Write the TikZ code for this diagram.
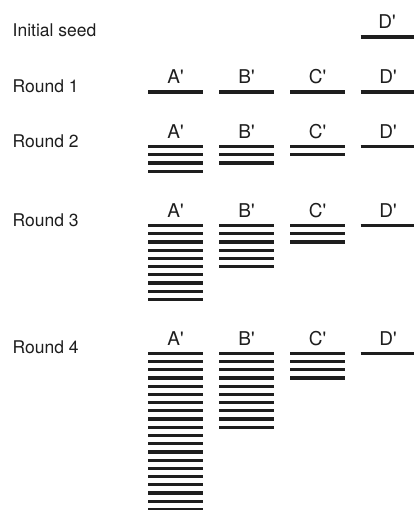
\documentclass[tikz,border=0pt]{standalone}
\usepackage{fontspec}
\setmainfont{TeX Gyre Heros}[Ligatures=TeXOff]
\definecolor{ink}{HTML}{1E1E1E}
\begin{document}
\begin{tikzpicture}[x=1pt,y=-1pt,
  bar/.style={line width=3.2pt, draw=ink},
  rowtext/.style={anchor=base west, inner sep=0pt, text=ink,
    font=\fontsize{17.5}{20}\selectfont},
  collabel/.style={anchor=base, inner sep=0pt, text=ink,
    font=\fontsize{19}{22}\selectfont}]
\useasboundingbox (0,0) rectangle (413,510);

% line spacing inside a stack and bar length
\def\gap{8.22}
\def\len{55}

% initial seed: a single D' strand
\node[rowtext] (seed) at (12.5,37) {Initial seed};
\node[collabel] (lD0) at (387,29) {D'};
\draw[bar] (360.5,37) -- ++(\len,0);

% rounds: row / first-bar y / bars in A, B, C, D
\foreach \r/\y/\na/\nb/\nc/\nd in {1/92/1/1/1/1, 2/146.6/4/3/2/1,
                                   3/225.5/10/6/3/1, 4/353.3/20/10/4/1} {
  \node[rowtext] (round\r) at (12.5,\y+0.5) {Round \r};
  \foreach \name/\x/\n in {A/148/\na, B/219/\nb, C/290/\nc, D/360.5/\nd} {
    \node[collabel] (l\name\r) at (\x+\len/2,\y-8) {\name'};
    \foreach \k in {1,...,\n}
      \draw[bar] (\x,{\y+(\k-1)*\gap}) -- ++(\len,0);
  }
}
\end{tikzpicture}
\end{document}
